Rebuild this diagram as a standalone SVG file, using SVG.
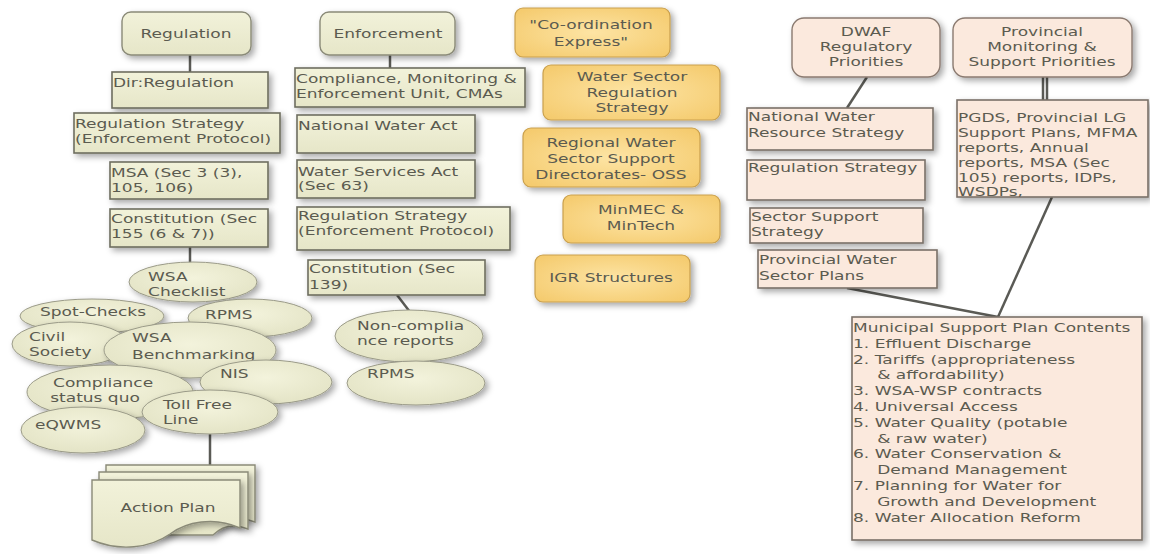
<svg xmlns="http://www.w3.org/2000/svg" width="1150" height="554" viewBox="0 0 1150 554">
<style>
.t{font-family:"DejaVu Sans",Verdana,sans-serif;font-size:12px;fill:#5b5b50}
.c{text-anchor:middle}
.ol{fill:url(#gOl);stroke:#6e6e60;stroke-width:1.6;filter:url(#sh)}
.olr{fill:url(#gOl);stroke:#8a8a78;stroke-width:1.4;filter:url(#sh)}
.el{fill:url(#gEl);stroke:#9a9a88;stroke-width:1;filter:url(#sh)}
.or{fill:url(#gOr);stroke:#c9a04e;stroke-width:1.2;filter:url(#sh)}
.pe{fill:#fbe9dd;stroke:#7a7068;stroke-width:1.6;filter:url(#sh)}
.per{fill:#fbe9dd;stroke:#8a7a70;stroke-width:1.4;filter:url(#sh)}
.ln{stroke:#5a5a55;stroke-width:2.5;fill:none}
</style>
<defs>
<filter id="sh" x="-20%" y="-20%" width="150%" height="160%">
<feDropShadow dx="3" dy="3" stdDeviation="3" flood-color="#000" flood-opacity="0.35"/>
</filter>
<linearGradient id="gOl" x1="0" y1="0" x2="0" y2="1"><stop offset="0" stop-color="#f2f2da"/><stop offset="1" stop-color="#e6e6c8"/></linearGradient>
<radialGradient id="gEl" cx="0.5" cy="0.4" r="0.6"><stop offset="0" stop-color="#f3f3dc"/><stop offset="1" stop-color="#e4e4c6"/></radialGradient>
<radialGradient id="gOr" cx="0.5" cy="0.5" r="0.7"><stop offset="0" stop-color="#fde4a4"/><stop offset="1" stop-color="#f4c96a"/></radialGradient>
</defs>

<g id="connectors">
<line class="ln" x1="190" y1="55" x2="190" y2="72"/>
<line class="ln" x1="190" y1="247" x2="190" y2="264"/>
<line class="ln" x1="210" y1="434" x2="210" y2="470"/>
<line class="ln" x1="390" y1="55" x2="390" y2="69"/>
<line class="ln" x1="397" y1="295" x2="410" y2="312"/>
<line class="ln" x1="867" y1="77" x2="847" y2="108"/>
<line class="ln" x1="1043" y1="77" x2="1043" y2="100" stroke-width="1.6"/>
<line class="ln" x1="1047" y1="77" x2="1047" y2="100" stroke-width="1.6"/>
<line class="ln" x1="1052" y1="197" x2="998" y2="317"/>
<line class="ln" x1="847" y1="288" x2="998" y2="317"/>
</g>

<!-- Regulation column -->
<g id="regulation"><rect class="olr" x="122" y="12" width="129" height="43" rx="9"/>
<text class="t c" transform="translate(186,38) scale(1.42,1)">Regulation</text></g>
<g id="dir-regulation"><rect class="ol" x="112" y="72" width="156" height="36"/>
<text class="t" transform="translate(113,87) scale(1.42,1)">Dir:Regulation</text></g>
<g id="reg-strategy-1"><rect class="ol" x="74" y="113" width="206" height="40"/>
<text class="t" transform="translate(75,128) scale(1.42,1)"><tspan x="0">Regulation Strategy</tspan><tspan x="0" dy="15">(Enforcement Protocol)</tspan></text></g>
<g id="msa"><rect class="ol" x="110" y="162" width="158" height="37"/>
<text class="t" transform="translate(111,177) scale(1.42,1)"><tspan x="0">MSA (Sec 3 (3),</tspan><tspan x="0" dy="15">105, 106)</tspan></text></g>
<g id="constitution-155"><rect class="ol" x="110" y="209" width="158" height="38"/>
<text class="t" transform="translate(111,223) scale(1.42,1)"><tspan x="0">Constitution (Sec</tspan><tspan x="0" dy="15">155 (6 &amp; 7))</tspan></text></g>

<g id="wsa-checklist"><ellipse class="el" cx="193" cy="282" rx="64" ry="20"/>
<text class="t" transform="translate(148,281) scale(1.42,1)"><tspan x="0">WSA</tspan><tspan x="0" dy="15">Checklist</tspan></text></g>
<g id="spot-checks"><ellipse class="el" cx="92" cy="316" rx="72" ry="17"/>
<text class="t" transform="translate(40,316) scale(1.42,1)">Spot-Checks</text></g>
<g id="rpms-1"><ellipse class="el" cx="250" cy="318" rx="62" ry="19"/>
<text class="t" transform="translate(205,319) scale(1.42,1)">RPMS</text></g>
<g id="civil-society"><ellipse class="el" cx="70" cy="344" rx="58" ry="22"/>
<text class="t" transform="translate(29,341) scale(1.42,1)"><tspan x="0">Civil</tspan><tspan x="0" dy="15">Society</tspan></text></g>
<g id="wsa-benchmarking"><ellipse class="el" cx="190" cy="350" rx="86" ry="28"/>
<text class="t" transform="translate(132,342) scale(1.42,1)"><tspan x="0">WSA</tspan><tspan x="0" dy="17">Benchmarking</tspan></text></g>
<g id="nis"><ellipse class="el" cx="266" cy="382" rx="66" ry="22"/>
<text class="t" transform="translate(220,378) scale(1.42,1)">NIS</text></g>
<g id="compliance-status"><ellipse class="el" cx="110" cy="392" rx="83" ry="27"/>
<text class="t" transform="translate(53,387) scale(1.42,1)"><tspan x="0">Compliance</tspan><tspan x="-2" dy="15">status quo</tspan></text></g>
<g id="toll-free"><ellipse class="el" cx="210" cy="412" rx="68" ry="22"/>
<text class="t" transform="translate(163,409) scale(1.42,1)"><tspan x="0">Toll Free</tspan><tspan x="0" dy="15">Line</tspan></text></g>
<g id="eqwms"><ellipse class="el" cx="83" cy="430" rx="62" ry="23"/>
<text class="t" transform="translate(35,429) scale(1.42,1)">eQWMS</text></g>

<g id="action-plan">
<path class="olr" d="M106,465 H255 V522 C240,516 228,520 220,528 L106,528 Z"/>
<path class="olr" d="M99,472 H248 V529 C233,523 221,527 213,535 L99,535 Z"/>
<path class="olr" d="M92,480 H240 V528 C214,516 186,522 170,534 C150,548 120,552 92,540 Z"/>
<text class="t c" transform="translate(168,512) scale(1.42,1)">Action Plan</text></g>

<!-- Enforcement column -->
<g id="enforcement"><rect class="olr" x="320" y="12" width="135" height="43" rx="9"/>
<text class="t c" transform="translate(388,38) scale(1.42,1)">Enforcement</text></g>
<g id="cmeu"><rect class="ol" x="295" y="68" width="230" height="39"/>
<text class="t" transform="translate(296,83) scale(1.42,1)"><tspan x="0">Compliance, Monitoring &amp;</tspan><tspan x="0" dy="15">Enforcement Unit, CMAs</tspan></text></g>
<g id="nwa"><rect class="ol" x="297" y="115" width="178" height="38"/>
<text class="t" transform="translate(298,130) scale(1.42,1)">National Water Act</text></g>
<g id="wsact"><rect class="ol" x="297" y="160" width="178" height="38"/>
<text class="t" transform="translate(298,176) scale(1.42,1)"><tspan x="0">Water Services Act</tspan><tspan x="0" dy="14">(Sec 63)</tspan></text></g>
<g id="reg-strategy-2"><rect class="ol" x="297" y="207" width="213" height="43"/>
<text class="t" transform="translate(298,220) scale(1.42,1)"><tspan x="0">Regulation Strategy</tspan><tspan x="0" dy="15">(Enforcement Protocol)</tspan></text></g>
<g id="constitution-139"><rect class="ol" x="308" y="260" width="177" height="35"/>
<text class="t" transform="translate(309,273) scale(1.42,1)"><tspan x="0">Constitution (Sec</tspan><tspan x="0" dy="16">139)</tspan></text></g>
<g id="non-compliance"><ellipse class="el" cx="409" cy="336" rx="74" ry="26"/>
<text class="t" transform="translate(357,330) scale(1.42,1)"><tspan x="0">Non-complia</tspan><tspan x="0" dy="15">nce reports</tspan></text></g>
<g id="rpms-2"><ellipse class="el" cx="416" cy="383" rx="69" ry="22"/>
<text class="t" transform="translate(367,378) scale(1.42,1)">RPMS</text></g>

<!-- Coordination column -->
<g id="coordination"><rect class="or" x="515" y="8" width="155" height="49" rx="8"/>
<text class="t c" transform="translate(591,29) scale(1.42,1)"><tspan x="0">"Co-ordination</tspan><tspan x="0" dy="17">Express"</tspan></text></g>
<g id="wsrs"><rect class="or" x="543" y="65" width="177" height="55" rx="8"/>
<text class="t c" transform="translate(632,81) scale(1.42,1)"><tspan x="0">Water Sector</tspan><tspan x="0" dy="16">Regulation</tspan><tspan x="0" dy="15">Strategy</tspan></text></g>
<g id="regional"><rect class="or" x="523" y="128" width="177" height="59" rx="8"/>
<text class="t c" transform="translate(611,147) scale(1.42,1)"><tspan x="0">Regional Water</tspan><tspan x="0" dy="16">Sector Support</tspan><tspan x="0" dy="16">Directorates- OSS</tspan></text></g>
<g id="minmec"><rect class="or" x="563" y="195" width="157" height="48" rx="8"/>
<text class="t c" transform="translate(641,214) scale(1.42,1)"><tspan x="0">MinMEC &amp;</tspan><tspan x="0" dy="16">MinTech</tspan></text></g>
<g id="igr"><rect class="or" x="535" y="255" width="155" height="47" rx="8"/>
<text class="t c" transform="translate(611,282) scale(1.42,1)">IGR Structures</text></g>

<!-- Right side -->
<g id="dwaf"><rect class="per" x="792" y="18" width="148" height="59" rx="12"/>
<text class="t c" transform="translate(866,36) scale(1.42,1)"><tspan x="0">DWAF</tspan><tspan x="0" dy="15">Regulatory</tspan><tspan x="0" dy="15">Priorities</tspan></text></g>
<g id="provincial"><rect class="per" x="953" y="18" width="179" height="59" rx="12"/>
<text class="t c" transform="translate(1042,36) scale(1.42,1)"><tspan x="0">Provincial</tspan><tspan x="0" dy="15">Monitoring &amp;</tspan><tspan x="0" dy="15">Support Priorities</tspan></text></g>
<g id="nwrs"><rect class="pe" x="747" y="108" width="186" height="42"/>
<text class="t" transform="translate(748,121) scale(1.42,1)"><tspan x="0">National Water</tspan><tspan x="0" dy="16">Resource Strategy</tspan></text></g>
<g id="reg-strategy-3"><rect class="pe" x="747" y="160" width="178" height="40"/>
<text class="t" transform="translate(748,172) scale(1.42,1)">Regulation Strategy</text></g>
<g id="sss"><rect class="pe" x="750" y="208" width="173" height="35"/>
<text class="t" transform="translate(751,221) scale(1.42,1)"><tspan x="0">Sector Support</tspan><tspan x="0" dy="15">Strategy</tspan></text></g>
<g id="pwsp"><rect class="pe" x="758" y="250" width="179" height="38"/>
<text class="t" transform="translate(759,264) scale(1.42,1)"><tspan x="0">Provincial Water</tspan><tspan x="0" dy="16">Sector Plans</tspan></text></g>
<g id="pgds"><rect class="pe" x="957" y="100" width="191" height="97"/>
<text class="t" transform="translate(958,122) scale(1.42,1)"><tspan x="0">PGDS, Provincial LG</tspan><tspan x="0" dy="15">Support Plans, MFMA</tspan><tspan x="0" dy="15">reports, Annual</tspan><tspan x="0" dy="15">reports, MSA (Sec</tspan><tspan x="0" dy="15">105) reports, IDPs,</tspan><tspan x="0" dy="14">WSDPs,</tspan></text></g>
<g id="municipal"><rect class="pe" x="852" y="317" width="290" height="223"/>
<text class="t" transform="translate(853,332) scale(1.42,1)"><tspan x="0">Municipal Support Plan Contents</tspan><tspan x="0" dy="15.8">1. Effluent Discharge</tspan><tspan x="0" dy="15.8">2. Tariffs (appropriateness</tspan><tspan x="17" dy="15.8">&amp; affordability)</tspan><tspan x="0" dy="15.8">3. WSA-WSP contracts</tspan><tspan x="0" dy="15.8">4. Universal Access</tspan><tspan x="0" dy="15.8">5. Water Quality (potable</tspan><tspan x="17" dy="15.8">&amp; raw water)</tspan><tspan x="0" dy="15.8">6. Water Conservation &amp;</tspan><tspan x="17" dy="15.8">Demand Management</tspan><tspan x="0" dy="15.8">7. Planning for Water for</tspan><tspan x="17" dy="15.8">Growth and Development</tspan><tspan x="0" dy="15.8">8. Water Allocation Reform</tspan></text></g>
</svg>
